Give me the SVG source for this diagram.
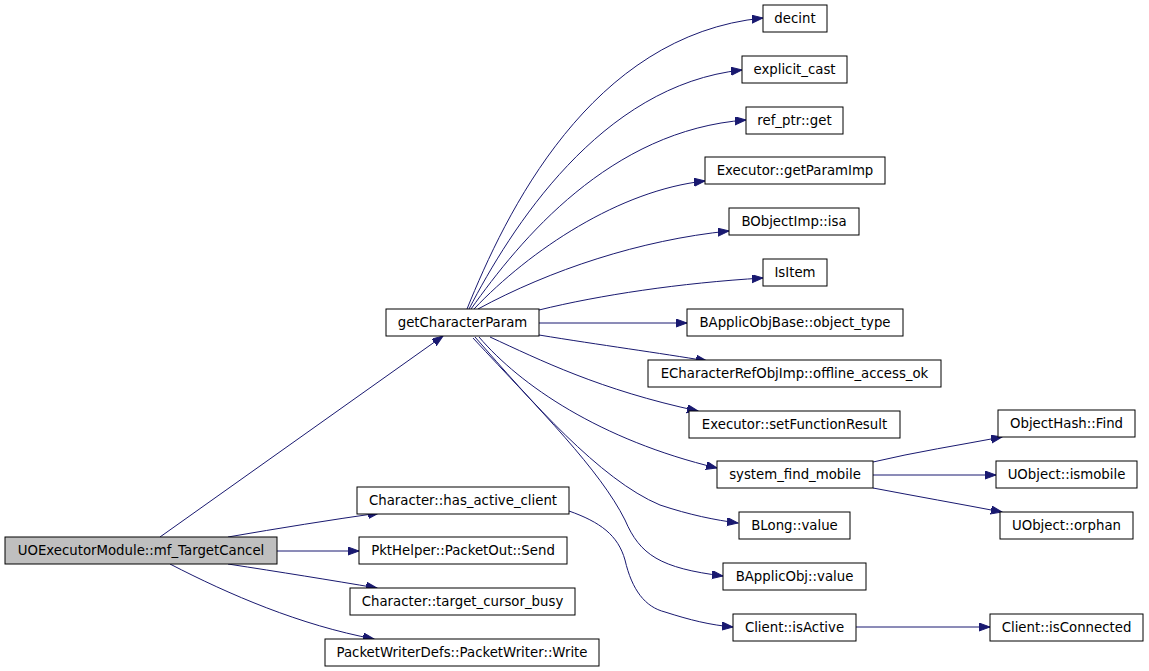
<svg xmlns="http://www.w3.org/2000/svg" width="1149" height="671" viewBox="0 0 1149 671">
<style>
.n rect{fill:#ffffff;stroke:#000000;stroke-width:1}
.n.root rect{fill:#bfbfbf}
.n text{font-family:"DejaVu Sans",sans-serif;font-size:13.3px;fill:#000000;text-anchor:middle}
.e path{fill:none;stroke:#191970;stroke-width:1;marker-end:url(#ah)}
</style>
<defs>
<marker id="ah" markerUnits="userSpaceOnUse" markerWidth="12" markerHeight="10" refX="11" refY="4" orient="auto">
<polygon points="0,0 11,4 0,8" fill="#191970" stroke="#191970" stroke-width="1"/>
</marker>
</defs>
<rect width="1149" height="671" fill="#ffffff"/>
<g id="connectors" class="e">
<path d="M160,537 L443,336"/>
<path d="M228,537 C280,528 330,520 379,513"/>
<path d="M277,551 L359,551"/>
<path d="M228,564 C280,572 330,580 377,588"/>
<path d="M170,564 C230,595 300,625 374,639"/>
<path d="M569,511 C600,522 618,535 625,560 C632,590 645,607 665,612 C690,620 710,625 733,627"/>
<path d="M467,309 C505,215 590,35 763,18"/>
<path d="M469,309 C510,230 600,85 742,70"/>
<path d="M471,309 C520,240 610,130 746,120"/>
<path d="M474,309 C530,250 620,190 705,181"/>
<path d="M478,309 C550,270 640,240 729,231"/>
<path d="M539,310 C600,295 680,283 763,278"/>
<path d="M539,323 L687,323"/>
<path d="M539,335 C600,345 660,353 707,361"/>
<path d="M490,337 C540,360 600,390 698,411"/>
<path d="M479,337 C520,385 600,440 717,468"/>
<path d="M475,337 C530,400 600,480 660,505 C690,515 715,520 738,523"/>
<path d="M473,338 C540,410 600,470 625,520 C640,555 660,568 723,576"/>
<path d="M873,462 C915,452 960,445 1002,437"/>
<path d="M873,475 L996,475"/>
<path d="M873,488 C915,496 960,504 1002,512"/>
<path d="M856,627 L990,627"/>
</g>
<g id="n_root" class="n root"><rect x="5" y="537" width="272" height="27"/><text x="141" y="555">UOExecutorModule::mf_TargetCancel</text></g>
<g id="n_getCharacterParam" class="n"><rect x="386" y="309" width="153" height="27"/><text x="462.5" y="327">getCharacterParam</text></g>
<g id="n_decint" class="n"><rect x="763" y="5" width="64" height="27"/><text x="795" y="23">decint</text></g>
<g id="n_explicit_cast" class="n"><rect x="742" y="56" width="105" height="27"/><text x="794.5" y="74">explicit_cast</text></g>
<g id="n_ref_ptr_get" class="n"><rect x="746" y="107" width="97" height="27"/><text x="794.5" y="125">ref_ptr::get</text></g>
<g id="n_getParamImp" class="n"><rect x="705" y="157" width="180" height="27"/><text x="795" y="175">Executor::getParamImp</text></g>
<g id="n_isa" class="n"><rect x="729" y="208" width="130" height="27"/><text x="794" y="226">BObjectImp::isa</text></g>
<g id="n_IsItem" class="n"><rect x="763" y="259" width="64" height="27"/><text x="795" y="277">IsItem</text></g>
<g id="n_object_type" class="n"><rect x="687" y="309" width="216" height="27"/><text x="795" y="327">BApplicObjBase::object_type</text></g>
<g id="n_offline" class="n"><rect x="648" y="360" width="293" height="27"/><text x="794.5" y="378">ECharacterRefObjImp::offline_access_ok</text></g>
<g id="n_setFunctionResult" class="n"><rect x="689" y="411" width="211" height="27"/><text x="794.5" y="429">Executor::setFunctionResult</text></g>
<g id="n_system_find_mobile" class="n"><rect x="717" y="461" width="156" height="27"/><text x="795" y="479">system_find_mobile</text></g>
<g id="n_BLong" class="n"><rect x="739" y="512" width="111" height="27"/><text x="794.5" y="530">BLong::value</text></g>
<g id="n_BApplicObj" class="n"><rect x="723" y="563" width="143" height="27"/><text x="794.5" y="581">BApplicObj::value</text></g>
<g id="n_isActive" class="n"><rect x="733" y="614" width="123" height="27"/><text x="794.5" y="632">Client::isActive</text></g>
<g id="n_Find" class="n"><rect x="998" y="410" width="137" height="27"/><text x="1066.5" y="428">ObjectHash::Find</text></g>
<g id="n_ismobile" class="n"><rect x="996" y="461" width="141" height="27"/><text x="1066.5" y="479">UObject::ismobile</text></g>
<g id="n_orphan" class="n"><rect x="1000" y="512" width="133" height="27"/><text x="1066.5" y="530">UObject::orphan</text></g>
<g id="n_isConnected" class="n"><rect x="990" y="614" width="153" height="27"/><text x="1066.5" y="632">Client::isConnected</text></g>
<g id="n_has_active_client" class="n"><rect x="357" y="487" width="212" height="27"/><text x="463" y="505">Character::has_active_client</text></g>
<g id="n_Send" class="n"><rect x="359" y="537" width="208" height="27"/><text x="463" y="555">PktHelper::PacketOut::Send</text></g>
<g id="n_target_cursor_busy" class="n"><rect x="350" y="588" width="225" height="27"/><text x="462.5" y="606">Character::target_cursor_busy</text></g>
<g id="n_Write" class="n"><rect x="325" y="639" width="274" height="27"/><text x="462" y="657">PacketWriterDefs::PacketWriter::Write</text></g>
</svg>
